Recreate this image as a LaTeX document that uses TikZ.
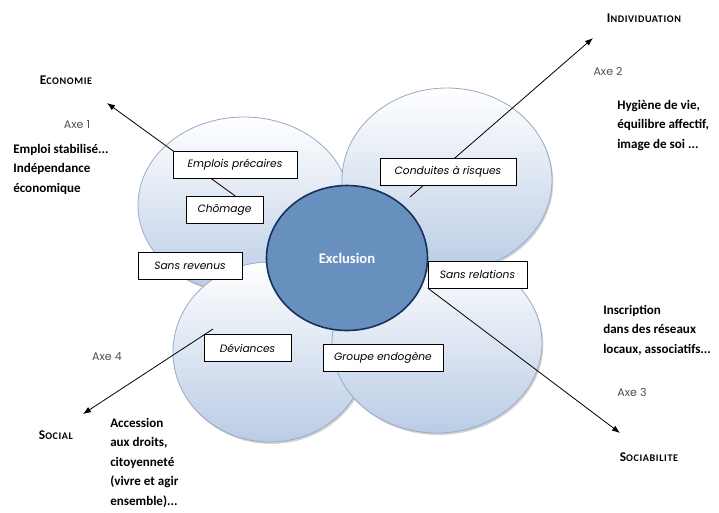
\documentclass[tikz,border=0pt]{standalone}
\usepackage{fontspec}
\setmainfont{Carlito}
\newfontfamily\boxfont{Poppins}
\newfontfamily\headfont{Carlito}[LetterSpace=6]
\usepackage{tikz}
\usetikzlibrary{shapes.geometric,shadows,arrows.meta,positioning}

\definecolor{bubbleline}{RGB}{150,170,200}
\definecolor{bubbleblue}{RGB}{186,204,229}
\definecolor{corefill}{RGB}{103,144,190}
\definecolor{coreline}{RGB}{22,50,92}
\definecolor{axegray}{RGB}{80,80,80}

\tikzset{
  bubble/.style={ellipse, draw=bubbleline, line width=0.6pt, top color=white, bottom color=bubbleblue,
    drop shadow={shadow xshift=1pt, shadow yshift=-1.5pt, opacity=0.35, fill=gray}},
  core/.style={ellipse, draw=coreline, line width=1.2pt, fill=corefill, text=white,
    font=\bfseries\fontsize{11}{13}\selectfont},
  cause/.style={draw, fill=white, line width=0.5pt, minimum height=20pt, inner sep=2pt,
    font=\boxfont\itshape\fontsize{8}{9}\selectfont,
    drop shadow={shadow xshift=0.8pt, shadow yshift=-0.8pt, opacity=0.25, fill=gray}},
  axis/.style={line width=0.6pt, -{Latex[length=6pt,width=4.5pt]}},
  axe/.style={text=axegray, font=\boxfont\fontsize{8.3}{10}\selectfont},
  goal/.style={align=left, inner sep=0pt, font=\bfseries\fontsize{9.8}{14.6}\selectfont},
  pole/.style={font=\headfont\bfseries\fontsize{7.6}{8}\selectfont}
}

\begin{document}
\begin{tikzpicture}[x=0.75pt, y=-0.75pt]
    \useasboundingbox (0,0) rectangle (719,512);

    % the four domains
    \node[bubble, minimum width=159pt,   minimum height=132pt] (eco)  at (244,205) {};
    \node[bubble, minimum width=145.5pt, minimum height=135pt] (soc)  at (270,352) {};
    \node[bubble, minimum width=157.5pt, minimum height=135pt] (sbl)  at (437,343) {};
    \node[bubble, minimum width=157.5pt, minimum height=138pt] (ind)  at (447,180) {};

    \node[core, minimum width=120.75pt, minimum height=108.75pt] (exclusion) at (347,258) {Exclusion};

    % axes
    \coordinate (tip1) at (107,103);
    \coordinate (tip2) at (593,38);
    \coordinate (tip3) at (620,433);
    \coordinate (tip4) at (83,414);
    \coordinate (from2) at (410,197);
    \coordinate (from4) at (213,329);

    \node[cause, minimum width=58pt] (chomage)   at (224.5,209.5) {Chômage};
    \draw[axis] ([xshift=7.9pt]chomage.north) -- (tip1);
    \draw[axis] (from2) -- (tip2);
    \draw[axis] (from4) -- (tip4);

    \node[cause, minimum width=93pt]  (precaires) at (235,164.5) {Emplois précaires};
    \node[cause, minimum width=102pt] (risques)   at (448,172)   {Conduites à risques};
    \node[cause, minimum width=78pt]  (revenus)   at (190,265.5) {Sans revenus};
    \node[cause, minimum width=74pt]  (relations) at (477.5,274.5) {Sans relations};
    \node[cause, minimum width=65pt]  (deviances) at (247.5,348) {Déviances};
    \node[cause, minimum width=90pt]  (endogene)  at (383,358)   {Groupe endogène};

    \draw[axis] (relations.south west) -- (tip3);

    % poles
    \node[pole] (economie)    at (66,80)   {{\fontsize{10}{8}\selectfont E}CONOMIE};
    \node[pole] (individu)    at (644,18)  {{\fontsize{10}{8}\selectfont I}NDIVIDUATION};
    \node[pole] (sociabilite) at (649,457) {{\fontsize{10}{8}\selectfont S}OCIABILITE};
    \node[pole] (social)      at (56,435)  {{\fontsize{10}{8}\selectfont S}OCIAL};

    \node[axe] (axe1) at (77,125)  {Axe 1};
    \node[axe] (axe2) at (608,71)  {Axe 2};
    \node[axe] (axe3) at (632,392) {Axe 3};
    \node[axe] (axe4) at (107,357) {Axe 4};

    \node[goal, anchor=north west] (goal1) at (13,144)  {Emploi stabilisé...\\Indépendance\\économique};
    \node[goal, anchor=north west] (goal2) at (617,100) {Hygiène de vie,\\équilibre affectif,\\image de soi ...};
    \node[goal, anchor=north west] (goal3) at (603,305) {Inscription\\dans des réseaux\\locaux, associatifs...};
    \node[goal, anchor=north west] (goal4) at (110,418) {Accession\\aux droits,\\citoyenneté\\(vivre et agir\\ensemble)...};

\end{tikzpicture}
\end{document}
